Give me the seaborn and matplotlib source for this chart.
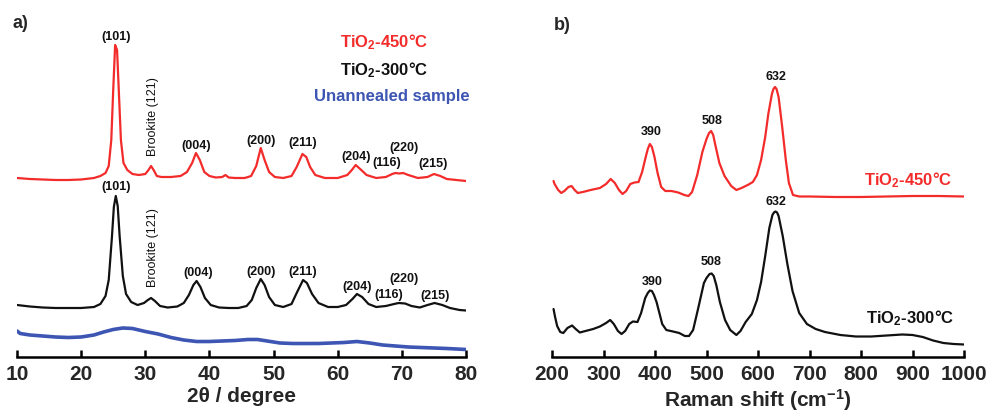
import numpy as np
import pandas as pd
import matplotlib
matplotlib.use("Agg")
import matplotlib.pyplot as plt
from matplotlib import font_manager
import seaborn as sns

# ---------------- data ----------------
# XRD, 2theta (degree) and stacked intensity (a.u.)
xrd450_tt = [10, 12, 14, 16, 18, 20, 22, 23, 23.8, 24.3, 24.7, 25.0, 25.3, 25.6, 25.9, 26.2, 26.6, 27.2, 28.0, 29.0,
             30.0, 30.5, 30.9, 31.3, 31.8, 32.5, 34, 35.5, 36.5, 37.3, 37.9, 38.5, 39.2, 40, 41, 42, 42.5, 43, 44, 45.5,
             46.5, 47.3, 48.0, 48.6, 49.3, 50.2, 51.5, 52.8, 53.6, 54.5, 55.1, 55.7, 56.5, 58, 60, 61.5, 62.2, 62.8,
             63.5, 64.5, 66, 67.5, 68.5, 69.0, 69.6, 70.2, 71, 72.5, 74, 75.0, 76, 77, 78.5, 80]
xrd450_int = [179, 178, 177.5, 177, 177, 177.5, 179, 181, 184, 191, 217, 267, 312, 307, 262, 217, 194, 187, 183, 182,
              183, 187, 191, 187, 181, 180, 180, 181, 185, 194, 204, 197, 185, 181, 179.5, 180, 182, 179.5, 179, 179,
              181, 191, 209, 197, 185, 180, 179, 181, 190, 203, 200, 190, 182, 179, 179, 182, 187, 192,
              188, 182, 179, 180, 183, 184, 183.5, 184, 182, 179, 180, 183, 181, 178, 177, 176]

xrd300_tt = [10, 12, 14, 16, 18, 20, 22, 23, 23.8, 24.3, 24.8, 25.1, 25.4, 25.7, 26.0, 26.5, 27.0, 27.8, 28.8, 29.8,
             30.4, 30.9, 31.5, 32.3, 33.5, 35, 36, 36.8, 37.5, 38.0, 38.6, 39.3, 40.2, 41.5, 43, 44.5, 45.8, 46.6,
             47.3, 48.0, 48.6, 49.3, 50.2, 51.5, 52.8, 53.6, 54.6, 55.2, 56, 57, 58.5, 60, 61.3, 62.3, 63.0, 63.8,
             64.8, 66, 67.5, 68.8, 69.5, 70.5, 71.5, 72.8, 74, 75.1, 76.3, 77.5, 79, 80]
xrd300_int = [52, 50.5, 49.5, 49, 49, 49, 50, 53, 61, 77, 120, 150, 161, 151, 121, 81, 63, 55, 52, 54,
              57, 59, 56, 51, 49.5, 50.5, 54, 62, 72, 76, 70, 59, 52, 49.5, 49, 49, 51, 57,
              69, 78, 72, 60, 52, 50, 53, 64, 77, 74, 63, 54, 50, 50, 52, 58, 63, 60,
              53, 50, 51, 53, 54, 53.5, 51, 49.5, 52, 54, 52, 49, 47, 46.5]

xrdun_tt = [10, 10.5, 12, 14, 16, 18, 20, 22, 23.5, 25, 26.5, 28, 30, 32, 34, 36, 38, 40, 42, 44, 46, 47.5, 49,
            51, 53, 55, 57, 59, 61, 63, 65, 67, 69, 71, 73, 75, 77, 80]
xrdun_int = [26, 23.5, 22, 21, 20, 19.5, 20, 22, 25, 27.5, 29, 28.5, 25.5, 23, 19.5, 17, 15.5, 15.5, 16, 16.5, 17.5,
             17.5, 16, 14, 13.5, 13.5, 13.5, 14, 14.5, 15.5, 14, 12, 11, 10, 9.5, 9, 8.5, 7.5]

# Raman, shift (cm-1) and stacked intensity (a.u.)
ram450_x = [203, 205, 212, 218, 224, 232, 238, 244, 250, 260, 275, 293, 305, 314, 322, 330, 337, 344, 352, 360, 368,
            375, 382, 386, 390, 394, 399, 405, 412, 420, 432, 445, 457, 465, 472, 482, 492, 500, 505, 509, 513, 518,
            525, 535, 548, 558, 568, 580, 590, 598, 606, 614, 620, 627, 630, 633, 636, 640, 647, 654, 660, 668, 680,
            700, 750, 800, 850, 900, 950, 1000]
ram450_y = [176, 173, 167, 164, 166, 170, 171, 167, 164, 165, 167, 169, 173, 178, 174, 167, 163, 166, 173, 174.5, 175,
            185, 200, 208, 213, 210, 200, 184, 170, 166, 166, 164.5, 162, 161, 165, 182, 205, 218, 224, 226, 222, 210,
            194, 181, 171, 167, 169, 172, 175, 182, 197, 220, 243, 263, 268, 270, 268, 260, 230, 197, 174, 162, 160.5,
            160.5, 160, 160, 160.5, 161, 161, 160.5]

ram300_x = [203, 206, 210, 216, 222, 230, 239, 246, 254, 265, 280, 293, 305, 313, 320, 328, 335, 342, 350, 357, 366,
            373, 381, 386, 390, 394, 398, 403, 408, 414, 422, 435, 447, 458, 466, 474, 484, 495, 500, 506, 510, 514,
            519, 526, 536, 546, 558, 566, 576, 588, 598, 606, 614, 622, 628, 631, 634, 637, 640, 648, 657, 667, 680,
            695, 712, 730, 760, 790, 820, 850, 880, 900, 920, 940, 960, 980, 1000]
ram300_y = [48, 40, 31, 25, 24, 29, 31.5, 28, 24.5, 26, 28, 30.5, 34, 37, 33, 26, 23, 26, 33, 35.5, 35,
            44, 59, 64, 66.5, 66, 62, 55, 45, 33, 27, 25.5, 24, 21, 21, 27, 49, 74, 79, 83, 83.5, 81,
            72, 55, 37, 27, 22, 26, 35, 43, 57, 75, 101, 129, 142, 144.5, 145.5, 144.5, 141, 121, 93, 66, 44,
            33, 28, 25, 22, 20.5, 20.5, 21.5, 22.5, 22, 20, 16.5, 14, 13, 12.5]

hkl_labels = ["(101)", "(004)", "(200)", "(211)", "(204)", "(116)", "(220)", "(215)"]
brookite_label = "Brookite (121)"
raman_labels = ["390", "508", "632"]
sample_names = [r"TiO$_\mathbf{2}$-450°C", r"TiO$_\mathbf{2}$-300°C", "Unannealed sample"]
colors = {"450": "#f32b2b", "300": "#111111", "un": "#3d55b3"}
xrd_ticks = [10, 20, 30, 40, 50, 60, 70, 80]
raman_ticks = [200, 300, 400, 500, 600, 700, 800, 900, 1000]

# ---------------- style ----------------
sns.set_theme(style="white")
names = {f.name for f in font_manager.fontManager.ttflist}
fam = "Liberation Sans Narrow" if "Liberation Sans Narrow" in names else "Liberation Sans"
plt.rcParams["font.family"] = [fam, "DejaVu Sans"]
plt.rcParams["mathtext.fontset"] = "custom"
plt.rcParams["mathtext.rm"] = fam
plt.rcParams["mathtext.bf"] = fam + ":bold"
plt.rcParams["mathtext.default"] = "regular"

fig = plt.figure(figsize=(9.88, 4.13), dpi=100)
W, H = 988, 413
axL = fig.add_axes([17 / W, 56 / H, (466 - 17) / W, 352 / H])
axR = fig.add_axes([552 / W, 56 / H, (964 - 552) / W, 352 / H])

def line(ax, x, y, c, lw):
    df = pd.DataFrame({"x": x, "y": y})
    sns.lineplot(data=df, x="x", y="y", ax=ax, color=c, lw=lw, estimator=None, sort=False,
                 solid_joinstyle="round")

line(axL, xrdun_tt, xrdun_int, colors["un"], 2.6)
line(axL, xrd300_tt, xrd300_int, colors["300"], 1.6)
line(axL, xrd450_tt, xrd450_int, colors["450"], 1.6)
line(axR, ram300_x, ram300_y, colors["300"], 1.6)
line(axR, ram450_x, ram450_y, colors["450"], 1.6)

for ax, lim, ticks in [(axL, (10, 80), xrd_ticks), (axR, (200, 1000), raman_ticks)]:
    ax.set_xlim(*lim)
    ax.set_ylim(0, 352)
    ax.set_xticks(ticks)
    ax.set_xticklabels([str(t) for t in ticks], fontsize=15, fontweight="bold")
    ax.set_yticks([])
    ax.set_ylabel("")
    for s in ["left", "right", "top"]:
        ax.spines[s].set_visible(False)
    ax.spines["bottom"].set_color("black")
    ax.spines["bottom"].set_linewidth(1.8)
    ax.tick_params(axis="x", direction="in", length=5, width=1.8, color="black", pad=6, bottom=True)
    ax.patch.set_alpha(0)

axL.set_xlabel("2θ / degree", fontsize=15, fontweight="bold", labelpad=2)
axR.set_xlabel(r"Raman shift (cm$^\mathbf{-1}$)", fontsize=15, fontweight="bold", labelpad=2)

# ---- annotations, left ----
hk = dict(fontsize=9, fontweight="bold", ha="center", va="center", color="#111111")
pos450 = [(25.4, 320), (37.9, 211), (48.0, 216), (54.6, 214), (62.9, 200), (67.7, 194), (70.3, 209), (74.9, 193)]
pos300 = [(25.5, 170), (38.3, 84), (48.1, 85), (54.5, 85), (63.0, 70), (67.9, 62), (70.4, 78), (75.2, 61)]
for lab, p in zip(hkl_labels, pos450):
    axL.text(p[0], p[1], lab, **hk)
for lab, p in zip(hkl_labels, pos300):
    axL.text(p[0], p[1], lab, **hk)
axL.text(31.2, 240, brookite_label, rotation=90, fontsize=9, ha="center", va="center", color="#111111")
axL.text(31.2, 109, brookite_label, rotation=90, fontsize=9, ha="center", va="center", color="#111111")
axL.text(67.3, 315, sample_names[0], fontsize=12, fontweight="bold", ha="center", va="center", color=colors["450"])
axL.text(67.3, 287, sample_names[1], fontsize=12, fontweight="bold", ha="center", va="center", color=colors["300"])
axL.text(68.5, 261, sample_names[2], fontsize=12, fontweight="bold", ha="center", va="center", color=colors["un"])

# ---- annotations, right ----
rk = dict(fontsize=9, fontweight="bold", ha="center", va="center", color="#111111")
for lab, p in zip(raman_labels, [(393, 225), (510, 236), (634, 280)]):
    axR.text(p[0], p[1], lab, **rk)
for lab, p in zip(raman_labels, [(394, 75), (508, 95), (634, 155)]):
    axR.text(p[0], p[1], lab, **rk)
axR.text(892, 177, sample_names[0], fontsize=12, fontweight="bold", ha="center", va="center", color=colors["450"])
axR.text(895, 39, sample_names[1], fontsize=12, fontweight="bold", ha="center", va="center", color=colors["300"])

fig.text(20 / W, 1 - 24 / H, "a)", fontsize=13, fontweight="bold", ha="center", va="center")
fig.text(562 / W, 1 - 25 / H, "b)", fontsize=13, fontweight="bold", ha="center", va="center")

fig.savefig("out.png", dpi=100)
